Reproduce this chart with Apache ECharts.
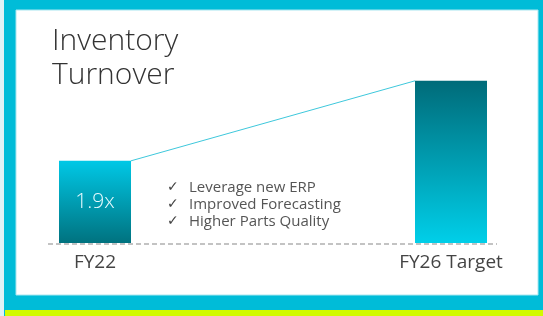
<!DOCTYPE html>
<html>
<head>
<meta charset="utf-8">
<script src="https://cdn.jsdelivr.net/npm/echarts@6/dist/echarts.min.js"></script>
<style>html,body{margin:0;padding:0;background:#fff;}#main{width:543px;height:316px;}</style>
</head>
<body>
<div id="main"></div>
<script>
// data
var categories = ['FY22', 'FY26 Target'];
var turnover = [1.9, 3.75];
var barLabels = ['1.9x', ''];
var checklist = ['Leverage new ERP', 'Improved Forecasting', 'Higher Parts Quality'];

var FONT = 'Open Sans';
var myChart = echarts.init(document.getElementById('main'));

// bar fills: first one light on top, target dark on top
var fills = [
    new echarts.graphic.LinearGradient(0, 0, 0, 1, [
        {offset: 0, color: '#00c8e6'}, {offset: 1, color: '#00727f'}
    ]),
    new echarts.graphic.LinearGradient(0, 0, 0, 1, [
        {offset: 0, color: '#006b79'}, {offset: 1, color: '#00cfe9'}
    ])
];

var barData = turnover.map(function (v, i) {
    return {value: v, itemStyle: {color: fills[i]}};
});

var option = {
    backgroundColor: '#00bcd8',
    animation: false,
    title: {
        text: 'Inventory\nTurnover',
        left: 47,
        top: 19,
        textStyle: {fontFamily: FONT, fontSize: 30, fontWeight: 300, color: '#333', lineHeight: 34}
    },
    grid: {left: 95, right: 92, top: 70, bottom: 73},
    xAxis: {
        type: 'category',
        data: categories,
        boundaryGap: false,
        axisLine: {show: false},
        axisTick: {show: false},
        axisLabel: {margin: 10, fontFamily: FONT, fontSize: 19, color: '#444'}
    },
    yAxis: {
        type: 'value',
        min: 0,
        max: 4,
        show: false,
        splitLine: {show: false}
    },
    graphic: [
        {id: 'strip', type: 'rect', z: -10, shape: {x: 0, y: 0, width: 4, height: 316}, style: {fill: '#dff2f6'}},
        {id: 'inner', type: 'rect', z: -10, shape: {x: 16, y: 10, width: 522, height: 285},
            style: {fill: '#ffffff', stroke: '#a8e6f0', lineWidth: 1}},
        {id: 'lime', type: 'rect', z: -10, shape: {x: 5, y: 310, width: 538, height: 6}, style: {fill: '#d2fa00'}},
        {id: 'checks', type: 'text', left: 167, top: 179,
            style: {text: checklist.map(function () { return '✓'; }).join('\n'),
                font: '14px "DejaVu Sans"', fill: '#444', lineHeight: 17}},
        {id: 'items', type: 'text', left: 189, top: 179,
            style: {text: checklist.join('\n'), fontFamily: FONT, fontSize: 15, fill: '#555', lineHeight: 17}}
    ],
    series: [{
        type: 'bar',
        data: barData,
        barWidth: 72,
        clip: false,
        label: {
            show: true,
            position: 'inside',
            formatter: function (p) { return barLabels[p.dataIndex]; },
            fontFamily: FONT,
            fontSize: 21,
            fontWeight: 300,
            color: '#e8fbff'
        }
    }]
};

myChart.setOption(option);

// connector line and dashed baseline, placed from the axes
var half = 36;
var a = myChart.convertToPixel({xAxisIndex: 0, yAxisIndex: 0}, [0, turnover[0]]);
var b = myChart.convertToPixel({xAxisIndex: 0, yAxisIndex: 0}, [1, turnover[1]]);
var z0 = myChart.convertToPixel({yAxisIndex: 0}, 0);

myChart.setOption({
    graphic: [
        {id: 'connector', type: 'line', z: 5,
            shape: {x1: a[0] + half, y1: a[1], x2: b[0] - half, y2: b[1]},
            style: {stroke: '#3ec8dc', lineWidth: 1}},
        {id: 'baseline', type: 'line', z: 5,
            shape: {x1: a[0] - half - 11, y1: z0 + 1, x2: b[0] + half + 10, y2: z0 + 1},
            style: {stroke: '#888', lineWidth: 1.2, lineDash: [5, 3]}}
    ]
});
</script>
</body>
</html>
